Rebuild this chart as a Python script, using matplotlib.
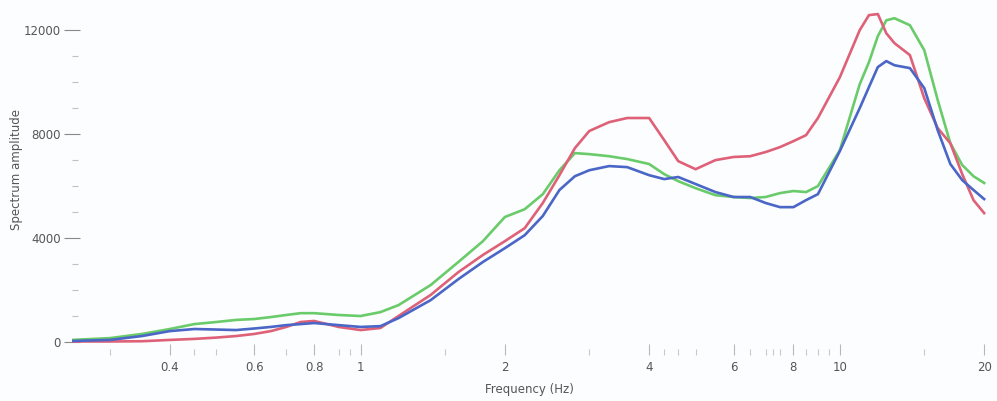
import matplotlib
matplotlib.use("Agg")
import matplotlib.pyplot as plt
from matplotlib.ticker import FixedLocator, FixedFormatter, NullFormatter

freq = [0.25, 0.3, 0.35, 0.4, 0.45, 0.5, 0.55, 0.6, 0.65, 0.7, 0.75, 0.8, 0.9,
        1.0, 1.1, 1.2, 1.4, 1.6, 1.8, 2.0, 2.2, 2.4, 2.6, 2.8, 3.0, 3.3, 3.6,
        4.0, 4.3, 4.6, 5.0, 5.5, 6.0, 6.5, 7.0, 7.5, 8.0, 8.5, 9.0, 10, 11,
        11.5, 12, 12.5, 13, 14, 15, 16, 17, 18, 19, 20]

green = [80, 150, 310, 500, 690, 770, 850, 885, 960, 1040, 1110, 1110, 1040,
         1000, 1150, 1420, 2190, 3080, 3880, 4810, 5110, 5690, 6610, 7270, 7230, 7150, 7040,
         6850, 6460, 6190, 5920, 5650, 5580, 5540, 5580, 5730, 5810, 5770, 6000, 7380, 9920,
         10770, 11770, 12380, 12460, 12190, 11230, 9310, 7650, 6810, 6380, 6120]

blue = [40, 80, 230, 420, 500, 480, 460, 520, 580, 650, 690, 730, 650,
        580, 610, 920, 1610, 2420, 3080, 3610, 4110, 4850, 5850, 6380, 6610, 6770, 6730,
        6420, 6270, 6350, 6080, 5770, 5580, 5580, 5350, 5190, 5190, 5460, 5690, 7350, 9000,
        9810, 10580, 10810, 10650, 10540, 9770, 8150, 6850, 6230, 5850, 5500]

red = [20, 20, 30, 80, 120, 170, 230, 310, 420, 580, 770, 810, 580,
       460, 540, 1000, 1810, 2690, 3350, 3880, 4380, 5350, 6420, 7460, 8120, 8460, 8620,
       8620, 7770, 6960, 6650, 7000, 7120, 7150, 7310, 7500, 7730, 7960, 8620, 10190, 12000,
       12580, 12620, 11880, 11500, 11040, 9380, 8230, 7650, 6460, 5460, 4960]

x_major = [0.4, 0.6, 0.8, 1, 2, 4, 6, 8, 10, 20]
x_labels = ["0.4", "0.6", "0.8", "1", "2", "4", "6", "8", "10", "20"]
x_minor = [0.3, 0.45, 0.5, 0.7, 0.9, 0.95, 1.5, 3, 4.3, 4.6, 5, 6.5, 7, 7.25, 7.5,
           8.5, 9, 9.5, 15]
y_major = [0, 4000, 8000, 12000]
y_minor = [1000, 2000, 3000, 5000, 6000, 7000, 9000, 10000, 11000]

plt.rcParams['font.family'] = ['DejaVu Sans']
fig = plt.figure(figsize=(9.97, 4.01), dpi=100, facecolor='#fcfdfe')
ax = fig.add_axes([0.0722, 0.1147, 0.917, 0.8554], facecolor='#fcfdfe')

ax.plot(freq, green, color='#6acb6a', lw=1.9, zorder=3)
ax.plot(freq, red, color='#de6178', lw=1.9, zorder=4)
ax.plot(freq, blue, color='#4a66c6', lw=1.9, zorder=5)

ax.set_xscale('log')
ax.set_xlim(0.25, 20.2)
ax.set_ylim(-500, 12700)

for s in ax.spines.values():
    s.set_visible(False)

ax.xaxis.set_major_locator(FixedLocator(x_major))
ax.xaxis.set_major_formatter(FixedFormatter(x_labels))
ax.xaxis.set_minor_locator(FixedLocator(x_minor))
ax.xaxis.set_minor_formatter(NullFormatter())
ax.yaxis.set_major_locator(FixedLocator(y_major))
ax.yaxis.set_minor_locator(FixedLocator(y_minor))

ax.tick_params(axis='x', which='major', direction='in', length=8, width=0.8,
               color='#b8b8b8', labelsize=8.5, labelcolor='#555555', pad=4)
ax.tick_params(axis='x', which='minor', direction='in', length=4, width=0.8,
               color='#c8c8c8')
ax.tick_params(axis='y', which='major', direction='inout', length=12, width=0.8,
               color='#888888', labelsize=8.5, labelcolor='#555555', pad=2)
ax.tick_params(axis='y', which='minor', direction='in', length=4, width=0.8,
               color='#c0c0c0')

ax.set_xlabel('Frequency (Hz)', fontsize=8.5, color='#555555', labelpad=7)
ax.set_ylabel('Spectrum amplitude', fontsize=8.5, color='#555555')
ax.yaxis.set_label_coords(-0.0536, 0.54)

fig.savefig('out.png', dpi=100, facecolor=fig.get_facecolor())
